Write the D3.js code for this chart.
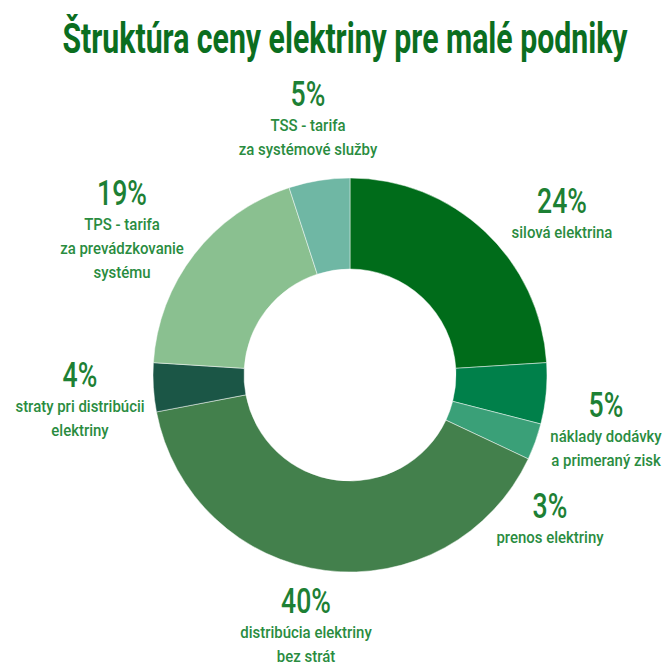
<!DOCTYPE html>
<html>
<head>
<meta charset="utf-8">
<script src="https://cdn.jsdelivr.net/npm/d3@7"></script>
<style>
  html, body { margin: 0; padding: 0; background: #fff; }
  svg { display: block; }
</style>
</head>
<body>
<div id="chart"></div>
<script>
// Price components of electricity for small businesses (shares in %)
const categories = [
  "silová elektrina",
  "náklady dodávky a primeraný zisk",
  "prenos elektriny",
  "distribúcia elektriny bez strát",
  "straty pri distribúcii elektriny",
  "TPS - tarifa za prevádzkovanie systému",
  "TSS - tarifa za systémové služby"
];
const values = [24, 5, 3, 40, 4, 19, 5];
const labelLines = [
  ["silová elektrina"],
  ["náklady dodávky", "a primeraný zisk"],
  ["prenos elektriny"],
  ["distribúcia elektriny", "bez strát"],
  ["straty pri distribúcii", "elektriny"],
  ["TPS - tarifa", "za prevádzkovanie", "systému"],
  ["TSS - tarifa", "za systémové služby"]
];
const colors = ["#006c1a", "#00804a", "#3aa078", "#43804c", "#1b5646", "#8ac090", "#6fb7a4"];

// label anchor (centre x, percent baseline y) per slice
const labelPos = [
  [562, 213], [606, 417], [550, 518], [306, 613], [80, 387], [122, 205], [308, 106]
];

const W = 664, H = 666;
const cx = 350, cy = 375, rOuter = 197, rInner = 106;
const FONT = "Roboto, 'Noto Sans', sans-serif";

const svg = d3.select("#chart").append("svg")
  .attr("width", W).attr("height", H);

// condensed text: draw with a horizontal squeeze around the anchor
function condensedText(parent, x, y, sx, str) {
  return parent.append("text")
    .attr("transform", `translate(${x},${y}) scale(${sx},1)`)
    .attr("text-anchor", "middle")
    .attr("font-family", FONT)
    .text(str);
}

condensedText(svg, 345, 53, 0.72, "Štruktúra ceny elektriny pre malé podniky")
  .attr("font-weight", 700)
  .attr("font-size", 42)
  .attr("fill", "#0b6e1f");

const pie = d3.pie().sort(null).value(d => d)(values);
const arc = d3.arc().innerRadius(rInner).outerRadius(rOuter);

const g = svg.append("g").attr("transform", `translate(${cx},${cy})`);
g.selectAll("path")
  .data(pie)
  .join("path")
  .attr("d", arc)
  .attr("fill", (d, i) => colors[i])
  .attr("stroke", "#ffffff")
  .attr("stroke-opacity", 0.6)
  .attr("stroke-width", 0.8);

const fmt = d3.format("d");
const labels = svg.selectAll("g.lbl")
  .data(values)
  .join("g")
  .attr("class", "lbl")
  .attr("transform", (d, i) => `translate(${labelPos[i][0]},${labelPos[i][1]})`);

labels.each(function (d, i) {
  const sel = d3.select(this);
  condensedText(sel, 0, 0, 0.74, fmt(d) + "%")
    .attr("font-size", 36)
    .attr("font-weight", 500)
    .attr("fill", "#1d8034");
  labelLines[i].forEach((line, k) => {
    condensedText(sel, 0, 25 + k * 24, 0.88, line)
      .attr("font-size", 17)
      .attr("font-weight", 500)
      .attr("fill", "#2a8c3f");
  });
});
</script>
</body>
</html>
